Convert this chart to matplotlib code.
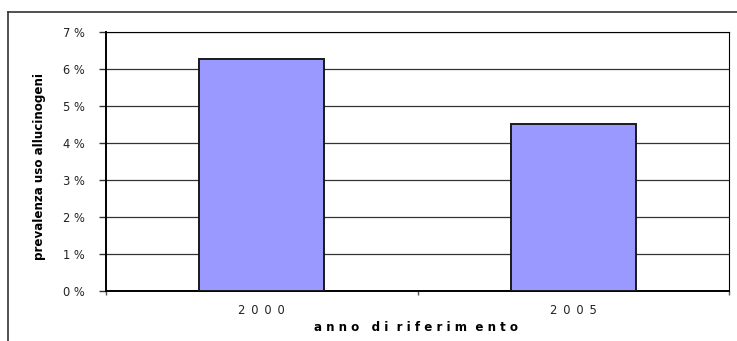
import matplotlib.pyplot as plt
from matplotlib.lines import Line2D
from matplotlib.ticker import FixedLocator

anni = ["2000", "2005"]
prevalenza = [6.27, 4.52]
y_ticks = [0, 1, 2, 3, 4, 5, 6, 7]

fig = plt.figure(figsize=(7.37, 3.41), dpi=100)
ax = fig.add_axes([106 / 737, 1 - 291 / 341, 623 / 737, 259 / 341])

x = range(len(anni))
ax.bar(x, prevalenza, width=0.4, color="#9999ff", edgecolor="#1a1a1a",
       linewidth=1.4, zorder=3)

ax.set_xlim(-0.5, len(anni) - 0.5)
ax.set_ylim(0, 7)
ax.set_yticks(y_ticks)
ax.set_yticklabels([f"{v} %" for v in y_ticks], fontsize=8.3, color="#222222")
ax.yaxis.grid(True, color="#333333", linewidth=0.9, zorder=0)

# category labels with spaced digits, separator ticks between categories
ax.set_xticks(list(x))
ax.set_xticklabels([" \u2009".join(a) for a in anni], fontsize=8.3,
                   color="#222222")
ax.tick_params(axis="x", which="major", length=0, pad=9)
ax.xaxis.set_minor_locator(FixedLocator([-0.5, 0.5, 1.5]))
ax.tick_params(axis="x", which="minor", length=3, width=1, color="#555555")
ax.tick_params(axis="y", length=5, width=1, color="#333333", pad=10)

for side in ["left", "bottom"]:
    ax.spines[side].set_linewidth(1.4)
ax.spines["top"].set_linewidth(0.8)
ax.spines["right"].set_linewidth(0.8)

ax.set_ylabel("prevalenza uso allucinogeni", fontsize=8.6, fontweight="bold")
ax.set_xlabel("a n n o   d i  r i f e r i m  e n t o", fontsize=8.6,
              fontweight="bold")
ax.yaxis.set_label_coords(-0.096, 0.48)
ax.xaxis.set_label_coords(0.497, -0.115)

# outer chart frame, open on the right and at the bottom
fig.add_artist(Line2D([8 / 737, 1], [1 - 12 / 341] * 2, color="#333333",
                      linewidth=1.2, transform=fig.transFigure))
fig.add_artist(Line2D([8 / 737] * 2, [0, 1 - 12 / 341], color="#333333",
                      linewidth=1.2, transform=fig.transFigure))

fig.savefig("out.png", dpi=100)
